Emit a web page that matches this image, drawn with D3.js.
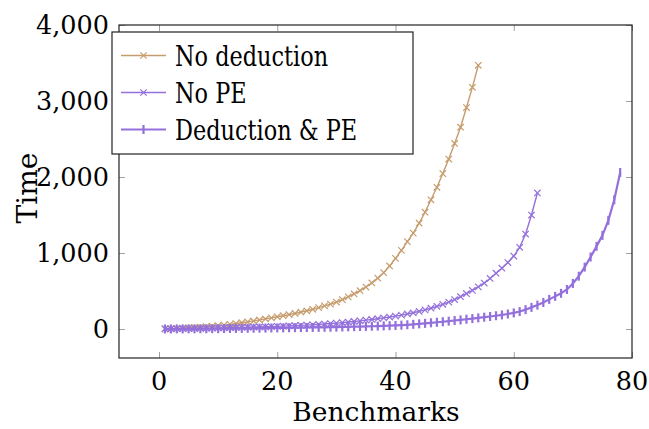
<!DOCTYPE html>
<html>
<head>
<meta charset="utf-8">
<script src="https://cdn.jsdelivr.net/npm/d3@7"></script>
<style>
  body { margin: 0; background: #fff; }
</style>
</head>
<body>
<script>
// values
const noDeduction = [3, 6, 9, 13, 17, 21, 26, 31, 37, 44, 52, 62, 72, 83, 95, 107, 120, 133, 147, 161,
  175, 190, 205, 222, 240, 260, 282, 305, 328, 355, 388, 423, 462, 505, 553, 607, 670, 742, 830, 930,
  1035, 1150, 1262, 1393, 1537, 1700, 1865, 2045, 2237, 2442, 2655, 2914, 3180, 3470]
const noPE = [2, 3, 4, 5, 6, 7, 8, 10, 12, 14, 16, 18, 20, 22, 24, 26, 28, 30, 32, 35,
  38, 41, 44, 48, 52, 56, 61, 66, 72, 78, 85, 92, 100, 108, 117, 126, 136, 147, 158, 170,
  183, 198, 214, 232, 252, 274, 298, 325, 355, 388, 425, 465, 508, 555, 605, 665, 735, 800, 875, 960,
  1075, 1250, 1500, 1790]
const dedAndPE = [1, 1, 2, 2, 3, 3, 4, 4, 5, 5, 6, 7, 8, 9, 10, 11, 12, 13, 14, 15,
  16, 17, 18, 19, 20, 21, 22, 23, 24, 25, 27, 29, 31, 33, 35, 37, 39, 41, 44, 47,
  51, 56, 62, 68, 75, 82, 89, 96, 104, 112, 120, 129, 138, 147, 156, 165, 175, 186, 198, 212,
  230, 255, 285, 315, 350, 390, 430, 470, 520, 600, 695, 815, 948, 1088, 1232, 1430, 1700, 2060]

const seriesNames = ["No deduction", "No PE", "Deduction & PE"]
const xTicks = [0, 20, 40, 60, 80]
const yTicks = [0, 1000, 2000, 3000, 4000]

const W = 649, H = 429
const pL = 119, pR = 632, pT = 25, pB = 358
const font = "'DejaVu Serif', serif"

const series = [
  { name: seriesNames[0], values: noDeduction, color: "#c69c6d", lw: 1.4, mark: "x" },
  { name: seriesNames[1], values: noPE, color: "#9370db", lw: 1.4, mark: "x" },
  { name: seriesNames[2], values: dedAndPE, color: "#9370db", lw: 2.2, mark: "|" }
]

const svg = d3.select("body").append("svg")
  .attr("width", W)
  .attr("height", H)
  .attr("font-family", font)
  .style("font-family", font)

const x = d3.scaleLinear().domain([-6.77, 80]).range([pL, pR])
const y = d3.scaleLinear().domain([-381, 4000]).range([pB, pT])

// tick marks inside, mirrored on every side
const tickCol = "#a0a0a0"
const xAxisB = d3.axisBottom(x).tickValues(xTicks).tickSizeInner(-6).tickSizeOuter(0).tickFormat("")
const xAxisT = d3.axisTop(x).tickValues(xTicks).tickSizeInner(-6).tickSizeOuter(0).tickFormat("")
const yAxisL = d3.axisLeft(y).tickValues(yTicks).tickSizeInner(-6).tickSizeOuter(0).tickFormat("")
const yAxisR = d3.axisRight(y).tickValues(yTicks).tickSizeInner(-6).tickSizeOuter(0).tickFormat("")

const gb = svg.append("g").attr("transform", "translate(0," + pB + ")").call(xAxisB)
const gt = svg.append("g").attr("transform", "translate(0," + pT + ")").call(xAxisT)
const gl = svg.append("g").attr("transform", "translate(" + pL + ",0)").call(yAxisL)
const gr = svg.append("g").attr("transform", "translate(" + pR + ",0)").call(yAxisR)
;[gb, gt, gl, gr].forEach(g => {
  g.select(".domain").remove()
  g.selectAll(".tick line").attr("stroke", tickCol).attr("stroke-width", 1)
})

// tick labels
svg.append("g").selectAll("text")
  .data(xTicks)
  .enter()
  .append("text")
  .attr("x", d => x(d))
  .attr("y", 390)
  .attr("text-anchor", "middle")
  .attr("font-size", 25.5)
  .text(d => d)

svg.append("g").selectAll("text")
  .data(yTicks)
  .enter()
  .append("text")
  .attr("x", pL - 10)
  .attr("y", d => y(d) + 9)
  .attr("text-anchor", "end")
  .attr("font-size", 25.5)
  .text(d => d3.format(",")(d))

svg.append("text")
  .attr("x", 376)
  .attr("y", 421)
  .attr("text-anchor", "middle")
  .attr("font-size", 26.5)
  .text("Benchmarks")

svg.append("text")
  .attr("transform", "translate(37,188) rotate(-90)")
  .attr("text-anchor", "middle")
  .attr("font-size", 28)
  .text("Time")

// lines and markers
const line = d3.line().x((d, i) => x(i + 1)).y(d => y(d))

function drawMark(g, mk, color, cx, cy) {
  if (mk == "x") {
    const s = 3.2
    g.append("path")
      .attr("d", `M${cx - s},${cy - s}L${cx + s},${cy + s}M${cx - s},${cy + s}L${cx + s},${cy - s}`)
      .attr("stroke", color)
      .attr("stroke-width", 1.2)
  } else {
    const s = 4.5
    g.append("path")
      .attr("d", `M${cx},${cy - s}L${cx},${cy + s}`)
      .attr("stroke", color)
      .attr("stroke-width", 2.2)
  }
}

series.forEach(s => {
  const g = svg.append("g")
  g.append("path")
    .datum(s.values)
    .attr("d", line)
    .attr("fill", "none")
    .attr("stroke", s.color)
    .attr("stroke-width", s.lw)
  s.values.forEach((v, i) => drawMark(g, s.mark, s.color, x(i + 1), y(v)))
})

// frame
svg.append("rect")
  .attr("x", pL)
  .attr("y", pT)
  .attr("width", pR - pL)
  .attr("height", pB - pT)
  .attr("fill", "none")
  .attr("stroke", "#222")
  .attr("stroke-width", 1.2)

// legend
const lg = svg.append("g")
lg.append("rect")
  .attr("x", 112)
  .attr("y", 32)
  .attr("width", 301)
  .attr("height", 122)
  .attr("fill", "#fff")
  .attr("stroke", "#222")
  .attr("stroke-width", 1.2)

series.forEach((s, i) => {
  const cy = 55.5 + i * 37
  lg.append("line")
    .attr("x1", 121).attr("x2", 166)
    .attr("y1", cy).attr("y2", cy)
    .attr("stroke", s.color)
    .attr("stroke-width", s.lw)
  drawMark(lg, s.mark, s.color, 143.5, cy)
  // DejaVu Serif is wider than the original face, so squeeze it a bit
  lg.append("text")
    .attr("transform", "translate(175," + (cy + 10) + ") scale(0.8,1)")
    .attr("font-size", 28)
    .text(s.name)
})
</script>
</body>
</html>
